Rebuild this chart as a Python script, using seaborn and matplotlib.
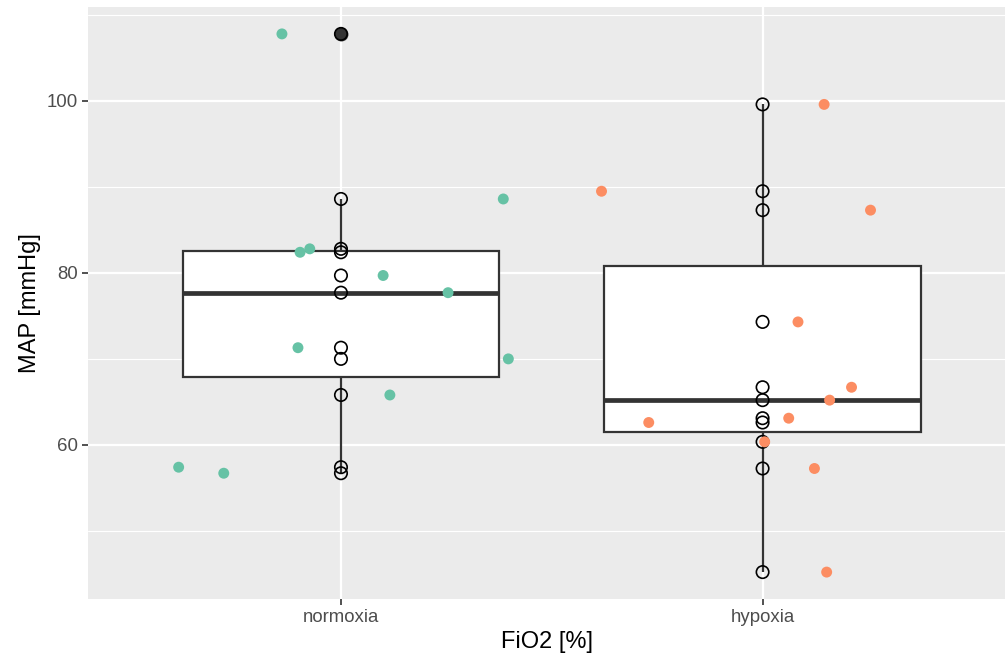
import matplotlib
matplotlib.use("Agg")
import matplotlib.pyplot as plt
from matplotlib.ticker import FixedLocator
import seaborn as sns
import pandas as pd

# ---- data ----
categories = ["normoxia", "hypoxia"]
normoxia_map = [107.8, 88.6, 82.8, 82.4, 79.7, 77.7, 71.3, 70.0, 65.8, 57.4, 56.7]
normoxia_jitter = [-0.140, 0.385, -0.074, -0.097, 0.100, 0.254, -0.102, 0.397, 0.116, -0.385, -0.278]
hypoxia_map = [99.6, 89.5, 87.3, 74.3, 66.7, 65.2, 63.1, 62.6, 60.35, 57.25, 45.2]
hypoxia_jitter = [0.146, -0.382, 0.256, 0.084, 0.211, 0.159, 0.062, -0.270, 0.005, 0.123, 0.152]
group_colors = ["#66C2A5", "#FC8D62"]
y_ticks = [60, 80, 100]
y_minor = [50, 70, 90, 110]

df = pd.DataFrame({
    "FiO2": [categories[0]] * len(normoxia_map) + [categories[1]] * len(hypoxia_map),
    "MAP": normoxia_map + hypoxia_map,
    "jitter": normoxia_jitter + hypoxia_jitter,
})
df["code"] = df["FiO2"].map({c: i for i, c in enumerate(categories)})
df["xj"] = df["code"] + df["jitter"]

sns.set_theme(style="darkgrid")
plt.rcParams["font.family"] = ["Liberation Sans", "DejaVu Sans"]

fig = plt.figure(figsize=(10.05, 6.63), dpi=100)
ax = fig.add_axes([88 / 1005, (663 - 599) / 663, (1005 - 88) / 1005, (599 - 7) / 663])
ax.set_facecolor("#EBEBEB")

sns.boxplot(data=df, x="FiO2", y="MAP", order=categories, ax=ax,
            color="white", linecolor="#333333", linewidth=1.5, width=0.75,
            whis=1.5, showcaps=False, fill=True, saturation=1,
            boxprops=dict(facecolor="white", edgecolor="#333333", linewidth=1.6, zorder=2),
            whiskerprops=dict(color="#333333", linewidth=1.6, zorder=2),
            medianprops=dict(color="#333333", linewidth=3.4, zorder=2.1),
            flierprops=dict(marker="o", markerfacecolor="#333333", markeredgecolor="#333333",
                            markersize=9, zorder=2.2))

# open circles at category centre
sns.scatterplot(data=df, x="code", y="MAP", ax=ax, marker="o", s=80,
                facecolors="none", edgecolor="black", linewidth=1.2, zorder=3, legend=False)

# jittered coloured points
sns.scatterplot(data=df, x="xj", y="MAP", hue="FiO2", hue_order=categories,
                palette=group_colors, ax=ax, s=62, linewidth=0, zorder=4, legend=False)

ax.set_xlim(-0.6, 1.575)
ax.set_ylim(42.07, 110.93)
ax.yaxis.set_major_locator(FixedLocator(y_ticks))
ax.yaxis.set_minor_locator(FixedLocator(y_minor))
ax.set_xticks([0, 1])
ax.set_xticklabels(categories)

ax.grid(which="major", color="white", linewidth=1.6)
ax.grid(which="minor", axis="y", color="white", linewidth=0.8)
ax.set_axisbelow(True)
for s in ax.spines.values():
    s.set_visible(False)

ax.tick_params(axis="both", which="major", length=4.5, width=1.2, color="#333333",
               labelsize=13.4, labelcolor="#4D4D4D", pad=2.5, bottom=True, left=True)
ax.tick_params(axis="both", which="minor", length=0)

ax.set_xlabel("FiO2 [%]", fontsize=17, color="black", labelpad=4)
ax.set_ylabel("MAP [mmHg]", fontsize=17, color="black", labelpad=4)

fig.savefig("out.png", dpi=100)
